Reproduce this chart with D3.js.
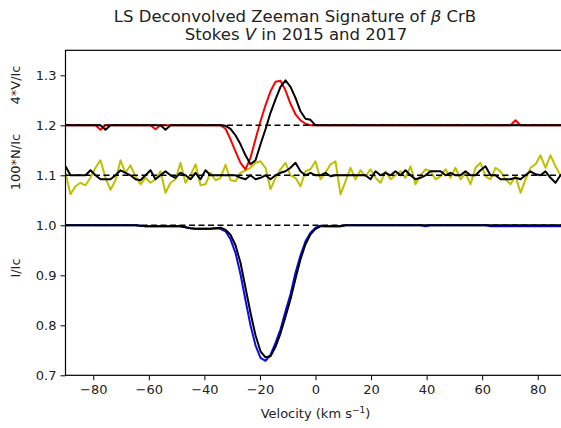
<!DOCTYPE html>
<html>
<head>
<meta charset="utf-8">
<script src="https://cdn.jsdelivr.net/npm/d3@7"></script>
<style>
  body { margin: 0; background: #fff; }
  text { font-family: "DejaVu Sans", sans-serif; fill: #222; }
</style>
</head>
<body>
<svg id="chart" width="561" height="428"></svg>
<script>
// LSD velocity grid (km/s)
const velocity = [
  -90, -88.2, -86.4, -84.6, -82.8, -81, -79.2, -77.4, -75.6, -73.8,
  -72, -70.2, -68.4, -66.6, -64.8, -63, -61.2, -59.4, -57.6, -55.8,
  -54, -52.2, -50.4, -48.6, -46.8, -45, -43.2, -41.4, -39.6, -37.8,
  -36, -34.2, -32.4, -30.6, -28.8, -27, -25.2, -23.4, -21.6, -19.8,
  -18, -16.2, -14.4, -12.6, -10.8, -9, -7.2, -5.4, -3.6, -1.8,
  0, 1.8, 3.6, 5.4, 7.2, 9, 10.8, 12.6, 14.4, 16.2,
  18, 19.8, 21.6, 23.4, 25.2, 27, 28.8, 30.6, 32.4, 34.2,
  36, 37.8, 39.6, 41.4, 43.2, 45, 46.8, 48.6, 50.4, 52.2,
  54, 55.8, 57.6, 59.4, 61.2, 63, 64.8, 66.6, 68.4, 70.2,
  72, 73.8, 75.6, 77.4, 79.2, 81, 82.8, 84.6, 86.4, 88.2,
  90
];

// Stokes I / Ic
const stokesI2015 = [
  1, 1, 1, 1, 1, 1, 1, 1, 1, 1,
  1, 1, 1, 1, 1, 0.999, 0.998, 0.998, 0.998, 0.998,
  0.998, 0.998, 0.998, 0.998, 0.996, 0.994, 0.993, 0.993, 0.993, 0.993,
  0.994, 0.993, 0.988, 0.972, 0.945, 0.902, 0.850, 0.800, 0.760, 0.735,
  0.729, 0.741, 0.765, 0.792, 0.828, 0.862, 0.905, 0.940, 0.968, 0.985,
  0.995, 0.999, 0.998, 0.998, 0.998, 0.998, 1, 1, 1, 1,
  1, 1, 1, 1, 1, 1, 1, 1, 1, 1,
  1, 1, 0.998, 1, 1, 1, 1, 1, 1, 1,
  1, 1, 1, 1, 1, 0.998, 0.998, 0.998, 0.998, 0.998,
  0.998, 0.998, 0.998, 0.998, 0.998, 0.998, 0.998, 0.998, 0.998, 0.998,
  0.998
];
const stokesI2017 = [
  1, 1, 1, 1, 1, 1, 1, 1, 1, 1,
  1, 1, 1, 1, 1, 0.999, 0.998, 0.998, 0.998, 0.998,
  0.998, 0.998, 0.998, 0.998, 0.996, 0.994, 0.993, 0.993, 0.993, 0.993,
  0.994, 0.995, 0.991, 0.981, 0.960, 0.925, 0.875, 0.825, 0.780, 0.748,
  0.736, 0.738, 0.757, 0.784, 0.817, 0.852, 0.893, 0.932, 0.962, 0.982,
  0.993, 0.998, 0.998, 0.998, 0.998, 0.998, 1, 1, 1, 1,
  1, 1, 1, 1, 1, 1, 1, 1, 1, 1,
  1, 1, 1, 1, 1, 1, 1, 1, 1, 1,
  1, 1, 1, 1, 1, 1, 1, 1, 1, 1,
  1, 1, 1, 1, 1, 1, 1, 1, 1, 1,
  1
];

// 100*N/Ic, offset to 1.1
const nullN2015 = [
  1.105, 1.062, 1.078, 1.085, 1.080, 1.095, 1.115, 1.130, 1.095, 1.071,
  1.090, 1.130, 1.105, 1.120, 1.098, 1.082, 1.095, 1.085, 1.092, 1.108,
  1.065, 1.085, 1.092, 1.125, 1.085, 1.100, 1.122, 1.080, 1.082, 1.105,
  1.090, 1.095, 1.121, 1.090, 1.088, 1.105, 1.110, 1.115, 1.125, 1.128,
  1.115, 1.072, 1.095, 1.112, 1.125, 1.100, 1.095, 1.078, 1.108, 1.112,
  1.128, 1.092, 1.105, 1.122, 1.128, 1.062, 1.088, 1.115, 1.092, 1.110,
  1.098, 1.112, 1.095, 1.085, 1.108, 1.092, 1.100, 1.108, 1.095, 1.118,
  1.082, 1.100, 1.112, 1.108, 1.092, 1.098, 1.112, 1.095, 1.115, 1.092,
  1.105, 1.082, 1.115, 1.125, 1.098, 1.092, 1.115, 1.108, 1.092, 1.082,
  1.098, 1.065, 1.092, 1.115, 1.122, 1.140, 1.115, 1.140, 1.118, 1.100,
  1.110
];
const nullN2017 = [
  1.118, 1.100, 1.100, 1.100, 1.100, 1.110, 1.100, 1.092, 1.092, 1.092,
  1.100, 1.110, 1.105, 1.100, 1.092, 1.090, 1.100, 1.110, 1.092, 1.100,
  1.108, 1.100, 1.095, 1.105, 1.100, 1.092, 1.105, 1.092, 1.110, 1.100,
  1.100, 1.100, 1.100, 1.100, 1.100, 1.095, 1.092, 1.100, 1.092, 1.095,
  1.100, 1.092, 1.100, 1.105, 1.108, 1.115, 1.125, 1.108, 1.100, 1.105,
  1.100, 1.100, 1.105, 1.098, 1.100, 1.100, 1.100, 1.100, 1.100, 1.100,
  1.100, 1.092, 1.108, 1.100, 1.105, 1.100, 1.108, 1.100, 1.110, 1.100,
  1.092, 1.095, 1.100, 1.108, 1.108, 1.108, 1.100, 1.105, 1.100, 1.100,
  1.108, 1.100, 1.100, 1.110, 1.118, 1.100, 1.100, 1.092, 1.092, 1.092,
  1.095, 1.092, 1.100, 1.108, 1.102, 1.100, 1.108, 1.095, 1.085, 1.100,
  1.100
];

// 4*V/Ic, offset to 1.2
const stokesV2015 = [
  1.2, 1.2, 1.2, 1.2, 1.2, 1.2, 1.2, 1.191, 1.2, 1.2,
  1.2, 1.2, 1.2, 1.2, 1.2, 1.2, 1.2, 1.2, 1.192, 1.2,
  1.2, 1.2, 1.2, 1.2, 1.2, 1.2, 1.2, 1.2, 1.2, 1.2,
  1.2, 1.2, 1.193, 1.172, 1.148, 1.125, 1.112, 1.135, 1.172, 1.208,
  1.240, 1.268, 1.287, 1.289, 1.270, 1.243, 1.222, 1.210, 1.203, 1.2,
  1.2, 1.2, 1.2, 1.2, 1.2, 1.2, 1.2, 1.2, 1.2, 1.2,
  1.2, 1.2, 1.2, 1.2, 1.2, 1.2, 1.2, 1.2, 1.2, 1.2,
  1.2, 1.2, 1.2, 1.2, 1.2, 1.2, 1.2, 1.2, 1.2, 1.2,
  1.2, 1.2, 1.2, 1.2, 1.2, 1.2, 1.2, 1.2, 1.2, 1.2,
  1.210, 1.2, 1.2, 1.2, 1.2, 1.2, 1.2, 1.2, 1.2, 1.2,
  1.2
];
const stokesV2017 = [
  1.2, 1.2, 1.2, 1.2, 1.2, 1.2, 1.2, 1.2, 1.191, 1.2,
  1.2, 1.2, 1.2, 1.2, 1.2, 1.2, 1.2, 1.2, 1.2, 1.2,
  1.191, 1.2, 1.2, 1.2, 1.2, 1.2, 1.2, 1.2, 1.2, 1.2,
  1.2, 1.2, 1.199, 1.193, 1.180, 1.162, 1.140, 1.122, 1.130, 1.162,
  1.192, 1.225, 1.252, 1.277, 1.290, 1.277, 1.255, 1.228, 1.213, 1.211,
  1.2, 1.2, 1.2, 1.2, 1.2, 1.2, 1.2, 1.2, 1.2, 1.2,
  1.2, 1.2, 1.2, 1.2, 1.2, 1.2, 1.2, 1.2, 1.2, 1.2,
  1.2, 1.2, 1.2, 1.2, 1.2, 1.2, 1.2, 1.2, 1.2, 1.2,
  1.2, 1.2, 1.2, 1.2, 1.2, 1.2, 1.2, 1.2, 1.2, 1.2,
  1.2, 1.2, 1.2, 1.2, 1.2, 1.2, 1.2, 1.2, 1.2, 1.2,
  1.2
];

const xTicks = [-80, -60, -40, -20, 0, 20, 40, 60, 80];
const yTicks = [0.7, 0.8, 0.9, 1.0, 1.1, 1.2, 1.3];
const referenceLevels = [1.0, 1.1, 1.2];

const svg = d3.select("#chart");
const plotLeft = 65.5, plotRight = 565.5, plotTop = 50.3, plotBottom = 375.3;

const x = d3.scaleLinear().domain([-90, 90]).range([plotLeft, plotRight]);
const y = d3.scaleLinear().domain([0.7, 1.35]).range([plotBottom, plotTop]);

svg.append("defs").append("clipPath").attr("id", "plotArea")
  .append("rect").attr("x", plotLeft).attr("y", plotTop)
  .attr("width", plotRight - plotLeft).attr("height", plotBottom - plotTop);

const plot = svg.append("g").attr("clip-path", "url(#plotArea)");

const line = d3.line().x((d, i) => x(velocity[i])).y(d => y(d));

const series = [
  { values: stokesI2015, color: "#0a0af5", width: 2 },
  { values: stokesI2017, color: "#000000", width: 2 },
  { values: nullN2015,   color: "#bfbf00", width: 2 },
  { values: nullN2017,   color: "#000000", width: 2 },
  { values: stokesV2015, color: "#ff0000", width: 2 },
  { values: stokesV2017, color: "#000000", width: 2 }
];

plot.selectAll("path.profile").data(series).join("path")
  .attr("class", "profile")
  .attr("fill", "none")
  .attr("stroke", d => d.color)
  .attr("stroke-width", d => d.width)
  .attr("stroke-linejoin", "round")
  .attr("d", d => line(d.values));

// dashed reference levels
plot.selectAll("line.ref").data(referenceLevels).join("line")
  .attr("class", "ref")
  .attr("x1", x(-90)).attr("x2", x(90))
  .attr("y1", d => y(d)).attr("y2", d => y(d))
  .attr("stroke", "#000").attr("stroke-width", 1.6)
  .attr("stroke-dasharray", "6,3.5");

// axes
const xAxis = svg.append("g").attr("transform", `translate(0,${plotBottom})`)
  .call(d3.axisBottom(x).tickValues(xTicks).tickSize(5).tickPadding(4)
    .tickFormat(d3.format("d")));
const yAxis = svg.append("g").attr("transform", `translate(${plotLeft},0)`)
  .call(d3.axisLeft(y).tickValues(yTicks).tickSize(5).tickPadding(4)
    .tickFormat(d3.format(".1f")));
[xAxis, yAxis].forEach(g => {
  g.select(".domain").remove();
  g.selectAll("line").attr("stroke", "#000").attr("stroke-width", 1);
  g.selectAll("text").attr("font-size", 13).attr("fill", "#222")
    .style("font-family", "'DejaVu Sans', sans-serif");
});

// frame
svg.append("rect").attr("x", plotLeft).attr("y", plotTop)
  .attr("width", plotRight - plotLeft).attr("height", plotBottom - plotTop)
  .attr("fill", "none").attr("stroke", "#000").attr("stroke-width", 1.2);

// title
const title = svg.append("text").attr("text-anchor", "middle").attr("font-size", 16.5);
title.append("tspan").attr("x", 295).attr("y", 22).text("LS Deconvolved Zeeman Signature of ");
title.append("tspan").attr("font-style", "italic").text("β");
title.append("tspan").text(" CrB");
const title2 = svg.append("text").attr("text-anchor", "middle").attr("font-size", 16.5)
  .attr("x", 296).attr("y", 40);
title2.append("tspan").text("Stokes ");
title2.append("tspan").attr("font-style", "italic").text("V");
title2.append("tspan").text(" in 2015 and 2017");

// y-axis labels for each stacked panel
[["4*V/Ic", 85], ["100*N/Ic", 162], ["I/Ic", 268]].forEach(([label, cy]) => {
  svg.append("text")
    .attr("transform", `translate(20,${cy}) rotate(-90)`)
    .attr("text-anchor", "middle").attr("font-size", 13)
    .text(label);
});

// x-axis label
const xl = svg.append("text").attr("text-anchor", "middle").attr("font-size", 13)
  .attr("x", 315.5).attr("y", 418);
xl.append("tspan").text("Velocity (km s");
xl.append("tspan").attr("font-size", 9).attr("dy", -5).text("−1");
xl.append("tspan").attr("dy", 5).text(")");
</script>
</body>
</html>
